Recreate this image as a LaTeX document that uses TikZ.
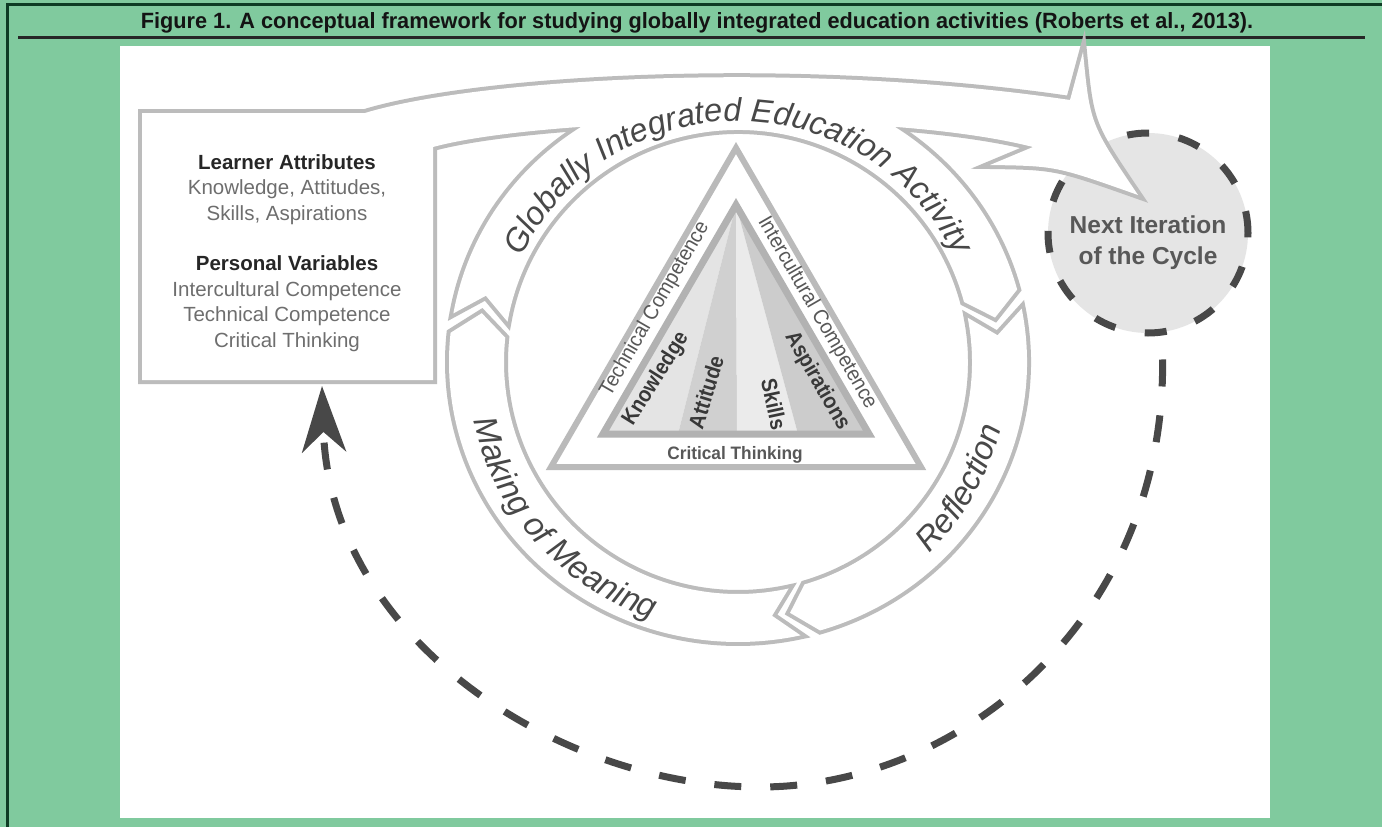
\documentclass[tikz,border=0pt]{standalone}
\usepackage{fontspec}
\setmainfont{Liberation Sans}
\usepackage{graphicx}
\usetikzlibrary{arrows.meta,decorations.text}

\definecolor{framegreen}{RGB}{128,202,158}
\definecolor{darkgreen}{RGB}{14,60,36}
\definecolor{outline}{RGB}{188,188,188}
\definecolor{trianglerim}{RGB}{186,186,186}
\definecolor{innerrim}{RGB}{178,178,178}
\definecolor{wedgeone}{RGB}{228,228,228}
\definecolor{wedgetwo}{RGB}{208,208,208}
\definecolor{wedgethree}{RGB}{235,235,235}
\definecolor{wedgefour}{RGB}{204,204,204}
\definecolor{labelgray}{RGB}{88,88,88}
\definecolor{ringtext}{RGB}{72,72,72}
\definecolor{itemgray}{RGB}{110,110,110}
\definecolor{dashgray}{RGB}{72,72,72}
\definecolor{nextfill}{RGB}{229,229,229}

\newcommand{\fsz}[1]{\fontsize{#1}{#1}\selectfont}
\newcommand{\narrow}[2][0.9]{\scalebox{#1}[1]{#2}}

% box with the wide arrow running over the cycle
\newcommand{\launchpath}{(142,-113) -- (365,-113)
  .. controls (480,-78) and (800,-60) .. (1070,-100) -- (1083,-52)
  .. controls (1090,-124) .. (1138,-195)
  .. controls (1056,-166) .. (990,-165) -- (1033,-147)
  .. controls (880,-108) and (540,-118) .. (433,-147)
  -- (433,-380) -- (142,-380) -- cycle}
% one band of the cycle, tail at \ta (notch \tn), head at \ha (point \hp)
\newcommand{\bandpath}{(\ta:289 and 280)
  arc[start angle=\ta, end angle=\ha, x radius=289, y radius=280]
  -- (\hp:261 and 256) -- (\ha:234 and 232)
  arc[start angle=\ha, end angle=\ta, x radius=234, y radius=232]
  -- (\tn:261 and 256) -- cycle}

\tikzset{
  outlinestroke/.style={draw=outline, line width=8pt},
  boxhead/.style={anchor=base, font=\bfseries\fsz{20.5}, text=black!85},
  boxitem/.style={anchor=base, font=\fsz{20.5}, text=itemgray},
  sidelabel/.style={font=\fsz{21}, text=labelgray},
  wedgelabel/.style={font=\bfseries\fsz{22}, text=black!78},
  nextcycle/.style={circle, minimum size=200pt, inner sep=0pt, fill=nextfill,
    draw=dashgray, line width=7pt, dash pattern=on 22pt off 30pt},
  nexttext/.style={align=center, font=\bfseries\fontsize{24.5}{31}\selectfont, text=labelgray},
  returnloop/.style={draw=dashgray, line width=7pt, dash pattern=on 27pt off 29pt,
    shorten <=24pt, -{Stealth[length=66pt, width=44pt, inset=20pt]}},
}

\begin{document}
\begin{tikzpicture}[x=1pt, y=1pt]
\useasboundingbox (0,0) rectangle (1382,-827);
\fill[framegreen] (0,0) rectangle (1382,-827);
\draw[darkgreen, line width=3pt] (7,-827) -- (7,-4) -- (1382,-4);
\node[anchor=base, inner sep=0pt, text=black!92] (title) at (697,-28)
  {\resizebox{1112pt}{16pt}{\bfseries Figure 1. A conceptual framework for studying globally integrated education activities (Roberts et al., 2013).}};
\draw[black!85, line width=3pt] (18,-37) -- (1365,-37);
\fill[white] (120,-46) rectangle (1270,-818);

% next iteration
\node[nextcycle] (next) at (1148,-233) {};
\node[nexttext] (nextlabel) at (1148,-242.5) {Next Iteration\\of the Cycle};

% dashed way back to the learner
\coordinate (boxfoot) at (322,-386);
\draw[returnloop] (next.-82) .. controls (1165,-620) and (960,-787) .. (760,-787)
  .. controls (560,-787) and (330,-640) .. (boxfoot);

% outlines first, white fills on top so that overlaps merge
\draw[outlinestroke] \launchpath;
\begin{scope}[shift={(738,-362)}]
  \foreach \ta/\tn/\ha/\hp in {170/165/15/10, 11/6/-73.5/-78.5, -77.5/-82.5/-186/-191}
    \draw[outlinestroke] \bandpath;
\end{scope}
\fill[white] \launchpath;
\begin{scope}[shift={(738,-362)}]
  \foreach \ta/\tn/\ha/\hp in {170/165/15/10, 11/6/-73.5/-78.5, -77.5/-82.5/-186/-191}
    \fill[white] \bandpath;

  \path[decorate, decoration={text along path, text align=center, text color=ringtext,
    text={|\itshape\fsz{32.5}|Globally Integrated Education Activity}}]
    (158:241) arc[start angle=158, end angle=22, radius=241];
  \path[decorate, decoration={text along path, text align=center, text color=ringtext,
    text={|\itshape\fsz{33}|Making of Meaning}}]
    (180:271) arc[start angle=180, end angle=264, radius=271];
  \path[decorate, decoration={text along path, text align=center, text color=ringtext,
    text={|\itshape\fsz{33}|Reflection}}]
    (-64:271) arc[start angle=-64, end angle=5, radius=271];
\end{scope}

% learner box
\node[boxhead] (attrhead) at (287,-169.5) {Learner Attributes};
\node[boxitem] (attrone) at (287,-194) {Knowledge, Attitudes,};
\node[boxitem] (attrtwo) at (287,-220) {Skills, Aspirations};
\node[boxhead] (varhead) at (287,-270) {Personal Variables};
\node[boxitem] (varone) at (287,-296) {Intercultural Competence};
\node[boxitem] (vartwo) at (287,-321.5) {Technical Competence};
\node[boxitem] (varthree) at (287,-347) {Critical Thinking};

% triangles
\draw[trianglerim, line width=6pt] (736,-148) -- (921,-467) -- (551,-467) -- cycle;
\foreach \xl/\xr/\shade in {603/678/wedgeone, 678/737/wedgetwo, 737/798/wedgethree, 798/869/wedgefour}
  \fill[\shade] (736,-205) -- (\xl,-434) -- (\xr,-434) -- cycle;
\draw[innerrim, line width=7pt] (736,-205) -- (869,-434) -- (603,-434) -- cycle;

\node[sidelabel, rotate=60] (techcomp) at (655,-309) {\narrow[0.93]{Technical Competence}};
\node[sidelabel, rotate=-60] (intercomp) at (817,-313) {\narrow[0.93]{Intercultural Competence}};
\node[wedgelabel, rotate=58] (know) at (656,-379) {\narrow{Knowledge}};
\node[wedgelabel, rotate=73] (att) at (706,-392) {\narrow{Attitude}};
\node[wedgelabel, rotate=-78] (skills) at (774,-404) {\narrow{Skills}};
\node[wedgelabel, rotate=-60] (asp) at (817,-381) {\narrow{Aspirations}};
\node[font=\bfseries\fsz{18}, text=labelgray] (critical) at (735,-455) {\narrow[0.96]{Critical Thinking}};
\end{tikzpicture}
\end{document}
